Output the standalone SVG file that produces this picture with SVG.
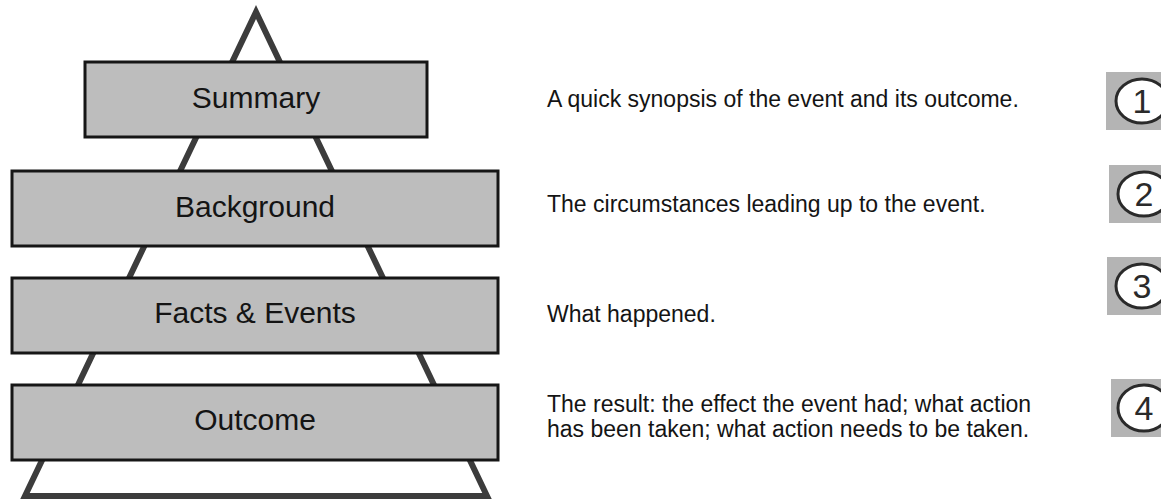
<svg xmlns="http://www.w3.org/2000/svg" width="1161" height="499" viewBox="0 0 1161 499">
  <style>
    .tri { fill: none; stroke: #3c3c3c; stroke-width: 6; stroke-linejoin: miter; }
    .box rect { fill: #bdbdbd; stroke: #161616; stroke-width: 3; }
    .box text { font-family: "Liberation Sans", Arial, sans-serif; font-size: 30px; fill: #141414; text-anchor: middle; }
    .desc { font-family: "Liberation Sans", Arial, sans-serif; font-size: 23px; fill: #141414; }
    .badge rect { fill: #b4b4b4; }
    .badge ellipse { fill: #ffffff; stroke: #2a2a2a; stroke-width: 3; }
    .badge text { font-family: "Liberation Sans", Arial, sans-serif; font-size: 34px; fill: #2a2a2a; text-anchor: middle; }
  </style>
  <rect width="1161" height="499" fill="#ffffff"/>

  <!-- pyramid outline behind the tiers -->
  <g id="connectors">
    <polygon class="tri" points="256,12 25,496 487,496"/>
  </g>

  <!-- tiers -->
  <g id="summary" class="box">
    <rect x="85" y="62" width="342" height="75"/>
    <text x="256" y="108">Summary</text>
  </g>
  <g id="background" class="box">
    <rect x="12" y="171" width="486" height="75"/>
    <text x="255" y="217">Background</text>
  </g>
  <g id="facts-events" class="box">
    <rect x="12" y="278" width="486" height="75"/>
    <text x="255" y="323">Facts &amp; Events</text>
  </g>
  <g id="outcome" class="box">
    <rect x="12" y="385" width="486" height="75"/>
    <text x="255" y="430">Outcome</text>
  </g>

  <!-- descriptions -->
  <g id="descriptions">
    <text class="desc" x="547" y="107">A quick synopsis of the event and its outcome.</text>
    <text class="desc" x="547" y="212">The circumstances leading up to the event.</text>
    <text class="desc" x="547" y="322">What happened.</text>
    <text class="desc" x="547" y="412">The result: the effect the event had; what action</text>
    <text class="desc" x="547" y="437">has been taken; what action needs to be taken.</text>
  </g>

  <!-- numbered markers -->
  <g id="badge-1" class="badge">
    <rect x="1106" y="72" width="60" height="58"/>
    <ellipse cx="1142" cy="101" rx="26" ry="22"/>
    <text x="1142" y="113">1</text>
  </g>
  <g id="badge-2" class="badge">
    <rect x="1109" y="165" width="60" height="58"/>
    <ellipse cx="1144" cy="194" rx="26" ry="22"/>
    <text x="1144" y="206">2</text>
  </g>
  <g id="badge-3" class="badge">
    <rect x="1107" y="257" width="60" height="58"/>
    <ellipse cx="1142" cy="286" rx="26" ry="22"/>
    <text x="1142" y="298">3</text>
  </g>
  <g id="badge-4" class="badge">
    <rect x="1111" y="379" width="60" height="58"/>
    <ellipse cx="1144" cy="408" rx="26" ry="23"/>
    <text x="1144" y="420">4</text>
  </g>
</svg>
